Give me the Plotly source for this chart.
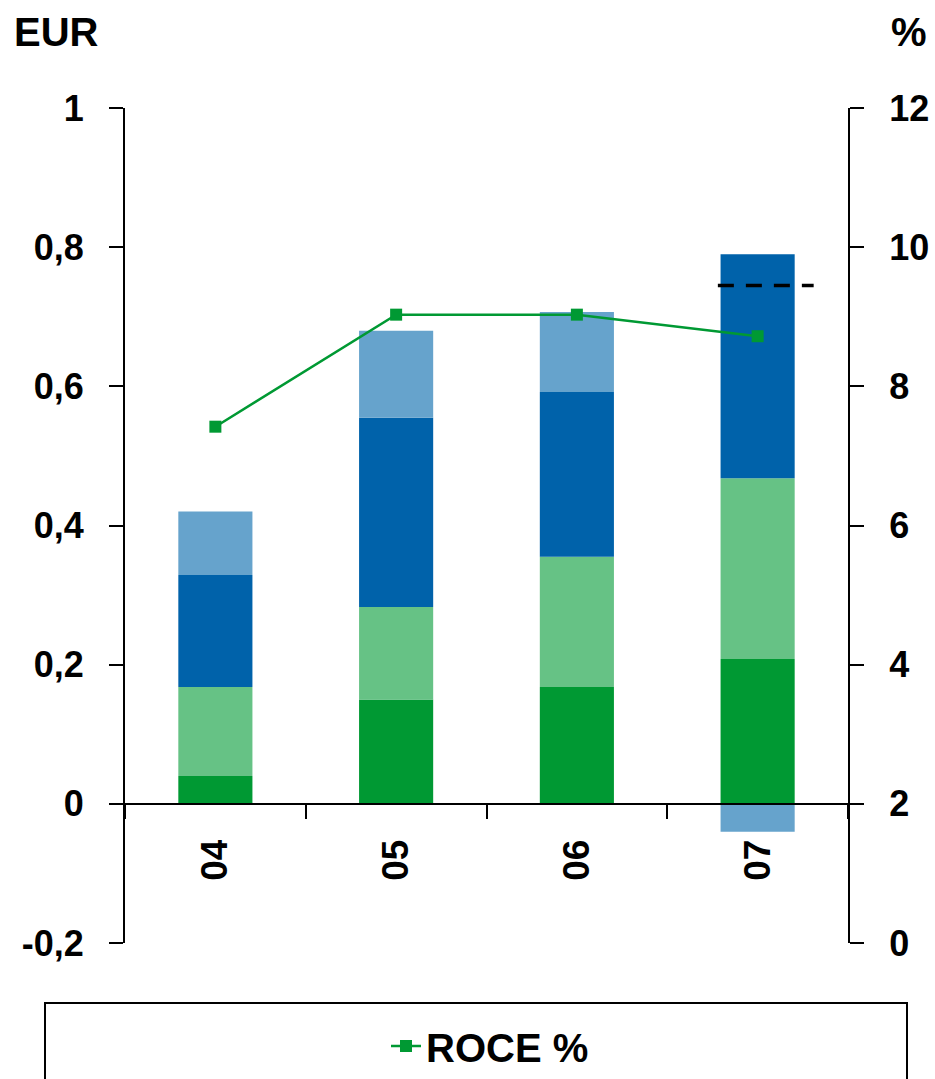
import plotly.graph_objects as go

# Fiscal years (category axis)
years = ["04", "05", "06", "07"]

# Stacked components, EUR
dark_green = [0.04, 0.15, 0.168, 0.208]
light_green = [0.128, 0.133, 0.187, 0.26]
dark_blue = [0.161, 0.272, 0.237, 0.322]
light_blue = [0.091, 0.125, 0.115, -0.04]

# Return on capital employed, %
roce = [7.42, 9.03, 9.03, 8.72]

# Target level shown as a dashed line, EUR
target_eur = 0.745

# Axis ticks
left_tickvals = [-0.2, 0, 0.2, 0.4, 0.6, 0.8, 1]
left_ticktext = ["-0,2", "0", "0,2", "0,4", "0,6", "0,8", "1"]
right_tickvals = [0, 2, 4, 6, 8, 10, 12]
right_ticktext = ["0", "2", "4", "6", "8", "10", "12"]

FONT = "Liberation Sans, Arial, sans-serif"
W, H = 935, 1079
M_L, M_R, M_T, M_B = 125, 87, 108, 136
plot_w = W - M_L - M_R
plot_h = H - M_T - M_B

fig = go.Figure()

stack = [
    (dark_green, "#009933"),
    (light_green, "#66C285"),
    (dark_blue, "#0062AA"),
    (light_blue, "#66A3CC"),
]
for vals, col in stack:
    fig.add_trace(go.Bar(
        x=years, y=vals, marker=dict(color=col, line=dict(width=0)),
        showlegend=False, yaxis="y", hoverinfo="skip",
    ))

fig.add_trace(go.Scatter(
    x=years, y=roce, name="ROCE %", yaxis="y2", mode="lines+markers",
    line=dict(color="#009933", width=2.5),
    marker=dict(symbol="square", size=12, color="#009933"),
))

# dashed target marker across the last bar
fig.add_shape(
    type="line", xref="x", yref="y",
    x0=2.78, x1=3.31, y0=target_eur, y1=target_eur,
    line=dict(color="black", width=3.5, dash="16px,12px"),
)


def px_to_paper_x(px):
    return (px - M_L) / plot_w


def px_to_paper_y(py):
    return (H - M_B - py) / plot_h


# legend frame
fig.add_shape(
    type="rect", xref="paper", yref="paper",
    x0=px_to_paper_x(45), x1=px_to_paper_x(907),
    y0=px_to_paper_y(1003), y1=px_to_paper_y(1120),
    line=dict(color="black", width=2), fillcolor="rgba(0,0,0,0)",
)

fig.add_annotation(
    text="EUR", xref="paper", yref="paper",
    x=px_to_paper_x(12), y=px_to_paper_y(32),
    xanchor="left", yanchor="middle", showarrow=False,
    font=dict(family=FONT, size=40, color="black", weight="bold"),
)
fig.add_annotation(
    text="%", xref="paper", yref="paper",
    x=px_to_paper_x(929), y=px_to_paper_y(32),
    xanchor="right", yanchor="middle", showarrow=False,
    font=dict(family=FONT, size=40, color="black", weight="bold"),
)

y_tick_font = dict(family=FONT, size=36, color="black", weight="bold")
x_tick_font = dict(family=FONT, size=37, color="black", weight="bold")

fig.update_layout(
    width=W, height=H,
    margin=dict(l=M_L, r=M_R, t=M_T, b=M_B, autoexpand=False),
    paper_bgcolor="white", plot_bgcolor="white",
    barmode="relative", bargap=0.59,
    font=dict(family=FONT, color="black"),
    showlegend=True,
    legend=dict(
        orientation="h", xref="container", yref="container",
        x=490 / W, xanchor="center",
        y=(H - 1046) / H, yanchor="middle",
        font=dict(family=FONT, size=40, color="black", weight="bold"),
        bgcolor="rgba(0,0,0,0)", borderwidth=0,
    ),
    xaxis=dict(
        type="category", anchor="free", position=0.2 / 1.2,
        showline=True, linecolor="black", linewidth=2,
        ticks="outside", tickson="boundaries", ticklen=14, tickwidth=2,
        tickcolor="black", tickangle=-90, tickfont=x_tick_font,
        ticklabelstandoff=20, showgrid=False, zeroline=False,
        automargin=False,
    ),
    yaxis=dict(
        range=[-0.2, 1], tickvals=left_tickvals, ticktext=left_ticktext,
        showline=True, linecolor="black", linewidth=2,
        ticks="outside", ticklen=14, tickwidth=2, tickcolor="black",
        tickfont=y_tick_font, ticklabelstandoff=18,
        showgrid=False, zeroline=False, automargin=False,
    ),
    yaxis2=dict(
        range=[0, 12], tickvals=right_tickvals, ticktext=right_ticktext,
        overlaying="y", side="right", anchor="x",
        showline=True, linecolor="black", linewidth=2,
        ticks="outside", ticklen=14, tickwidth=2, tickcolor="black",
        tickfont=y_tick_font, ticklabelstandoff=18,
        showgrid=False, zeroline=False, automargin=False,
    ),
)

fig.write_html("out.html")
